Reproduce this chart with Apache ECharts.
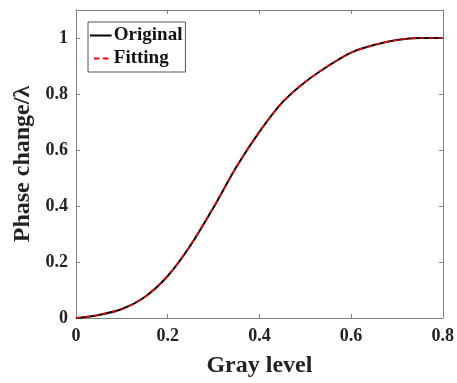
<!DOCTYPE html>
<html><head><meta charset="utf-8">
<script src="https://cdn.jsdelivr.net/npm/echarts@6/dist/echarts.min.js"></script>
<style>html,body{margin:0;padding:0;background:#fff}#c{width:457px;height:383px}</style>
</head><body><div id="c"></div>
<script>
const grayLevel = [0, 0.05, 0.1, 0.15, 0.2, 0.25, 0.3, 0.35, 0.4, 0.45, 0.5, 0.55, 0.6, 0.65, 0.7, 0.75, 0.8];
const original = [0, 0.011, 0.032, 0.075, 0.15, 0.26, 0.395, 0.54, 0.665, 0.77, 0.843, 0.9, 0.948, 0.975, 0.993, 1.0, 1.0];
const fitting  = [0, 0.011, 0.031, 0.075, 0.15, 0.261, 0.395, 0.539, 0.665, 0.769, 0.843, 0.9, 0.947, 0.975, 0.993, 1.0, 1.0];
const xTicks = [0, 0.2, 0.4, 0.6, 0.8];
const yTicks = [0, 0.2, 0.4, 0.6, 0.8, 1];

const font = 'Liberation Serif';
const axisCol = '#808080';
const fmt = v => String(Math.round(v * 10) / 10);
const solidIcon = 'path://M0,0L0.01,0Z M0,9L24,9L24,11L0,11Z M0,20L0.01,20Z';
const dashIcon = 'path://M0,0L0.01,0Z M1,9L7,9L7,11L1,11Z M11,9L17,9L17,11L11,11Z M0,20L0.01,20Z';
function xa(pos, show) {
  return {type: 'value', position: pos, min: 0, max: 0.8, interval: 0.2,
    axisLine: {show: true, onZero: false, lineStyle: {color: axisCol, width: 1}},
    axisTick: {show: true, inside: true, length: 4, lineStyle: {color: axisCol}},
    splitLine: {show: false},
    axisLabel: {show: show, color: '#222', fontFamily: font, fontWeight: 'bold', fontSize: 18, margin: 9, formatter: fmt},
    name: show ? 'Gray level' : '', nameLocation: 'middle', nameGap: 36,
    nameTextStyle: {color: '#222', fontFamily: font, fontWeight: 'bold', fontSize: 24}};
}
function ya(pos, show) {
  return {type: 'value', position: pos, min: 0, max: 1.1,
    axisLine: {show: true, onZero: false, lineStyle: {color: axisCol, width: 1}},
    axisTick: {show: true, inside: true, length: 4, lineStyle: {color: axisCol},
      customValues: yTicks},
    axisLabel: {show: show, color: '#222', fontFamily: font, fontWeight: 'bold', fontSize: 18, margin: 8,
      customValues: yTicks, formatter: fmt},
    splitLine: {show: false},
    name: show ? 'Phase change/λ' : '', nameLocation: 'middle', nameGap: 34,
    nameTextStyle: {color: '#222', fontFamily: font, fontWeight: 'bold', fontSize: 24}};
}
const chart = echarts.init(document.getElementById('c'));
chart.setOption({
  animation: false,
  grid: {left: 76, top: 10, right: 14, bottom: 64},
  xAxis: [xa('bottom', true), xa('top', false)],
  yAxis: [ya('left', true), ya('right', false)],
  legend: {left: 88, top: 22, orient: 'vertical', borderColor: '#555', borderWidth: 1,
    backgroundColor: '#fff', padding: [4, 3, 4, 2], itemGap: 4, itemWidth: 24, itemHeight: 18,
    textStyle: {fontFamily: font, fontWeight: 'bold', fontSize: 19, color: '#111', padding: [0, 0, 0, -4]},
    data: [{name: 'Original', icon: solidIcon}, {name: 'Fitting', icon: dashIcon}]},
  series: [
    {name: 'Original', type: 'line', symbol: 'none', smooth: 0.3,
     data: grayLevel.map((x, i) => [x, original[i]]),
     lineStyle: {color: '#000', width: 2}, itemStyle: {color: '#000'}},
    {name: 'Fitting', type: 'line', symbol: 'none', smooth: 0.3,
     data: grayLevel.map((x, i) => [x, fitting[i]]),
     lineStyle: {color: '#ff0000', width: 1.6, type: [5, 4]}, itemStyle: {color: '#ff0000'}}
  ]
});
</script></body></html>
